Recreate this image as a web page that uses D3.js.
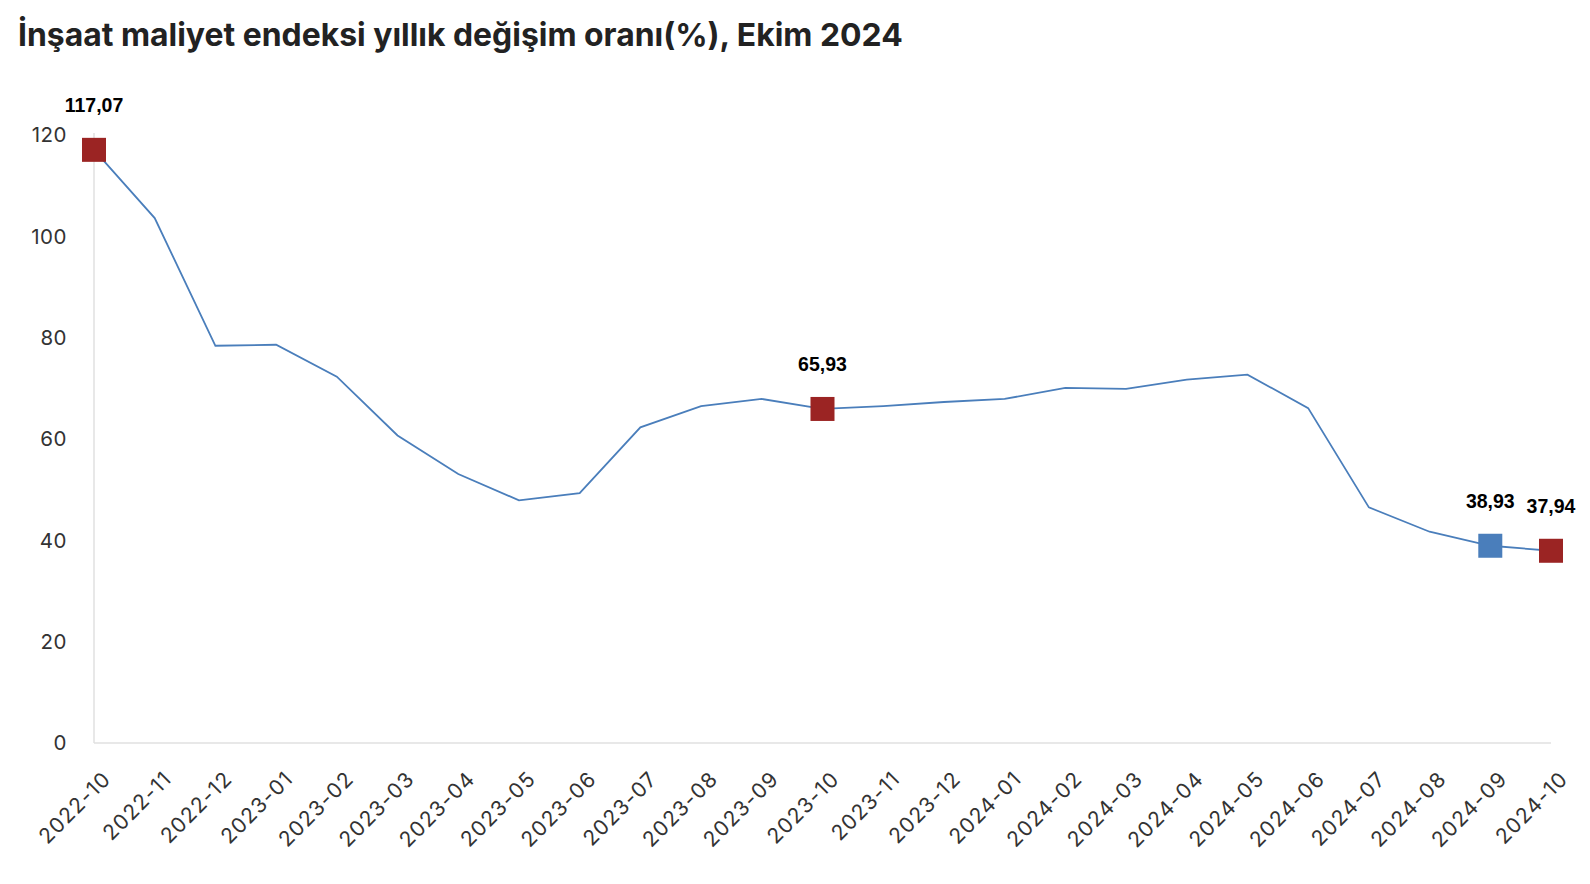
<!DOCTYPE html>
<html><head><meta charset="utf-8">
<script src="https://cdn.jsdelivr.net/npm/d3@7"></script>
<style>body{margin:0;background:#fff}svg{display:block}</style>
</head><body>
<svg id="c" width="1590" height="884"></svg>
<script>
const title = "İnşaat maliyet endeksi yıllık değişim oranı(%), Ekim 2024";
const months = ["2022-10","2022-11","2022-12","2023-01","2023-02","2023-03","2023-04","2023-05","2023-06","2023-07","2023-08","2023-09","2023-10","2023-11","2023-12","2024-01","2024-02","2024-03","2024-04","2024-05","2024-06","2024-07","2024-08","2024-09","2024-10"];
const values = [117.07,103.6,78.4,78.6,72.3,60.7,53.1,47.9,49.3,62.3,66.5,67.9,65.93,66.5,67.3,67.9,70.1,69.9,71.7,72.7,66.1,46.5,41.7,38.93,37.94];
const yTicks = [0,20,40,60,80,100,120];
const highlightRed = ["2022-10","2023-10","2024-10"];
const highlightBlue = ["2024-09"];
const labelText = {"2022-10":"117,07","2023-10":"65,93","2024-09":"38,93","2024-10":"37,94"};

const svg = d3.select("#c");
const x = d3.scalePoint().domain(months).range([94,1551]);
const y = d3.scaleLinear().domain([0,120]).range([743,135]);

svg.append("text").attr("x",18).attr("y",46).text(title)
  .attr("font-family","Inter, 'Open Sans', sans-serif").attr("font-weight",700)
  .attr("font-size",31.9).attr("fill","#222");

// axes lines
svg.append("line").attr("x1",94).attr("x2",94).attr("y1",133).attr("y2",743).attr("stroke","#e0e0e0").attr("stroke-width",1.5);
svg.append("line").attr("x1",94).attr("x2",1551).attr("y1",743).attr("y2",743).attr("stroke","#e0e0e0").attr("stroke-width",1.5);

// y ticks
svg.append("g").selectAll("text").data(yTicks).join("text")
  .attr("x",67).attr("y",d=>y(d)).attr("dy","0.35em").attr("text-anchor","end")
  .attr("font-family","Inter, sans-serif").attr("font-size",20.5).attr("letter-spacing",0.5).attr("fill","#333").text(d=>d);

// x ticks
svg.append("g").selectAll("text").data(months).join("text")
  .attr("transform",d=>`translate(${x(d)+13},${775}) rotate(-45)`)
  .attr("text-anchor","end").attr("dy","0.35em")
  .attr("font-family","Inter, sans-serif").attr("font-size",21).attr("letter-spacing",1.2).attr("fill","#333").text(d=>d);

const data = months.map((m,i)=>({m,v:values[i]}));
svg.append("path").datum(data).attr("fill","none").attr("stroke","#4A7EBB").attr("stroke-width",1.8)
  .attr("d",d3.line().x(d=>x(d.m)).y(d=>y(d.v)));

const ms = 24;
svg.append("g").selectAll("rect").data(data.filter(d=>highlightRed.includes(d.m)||highlightBlue.includes(d.m))).join("rect")
  .attr("x",d=>x(d.m)-ms/2).attr("y",d=>y(d.v)-ms/2).attr("width",ms).attr("height",ms)
  .attr("fill",d=>highlightBlue.includes(d.m)?"#4A7EBB":"#9B2423");

svg.append("g").selectAll("text").data(data.filter(d=>labelText[d.m])).join("text")
  .attr("x",d=>x(d.m)).attr("y",d=>y(d.v)-45).attr("dy","0.35em").attr("text-anchor","middle")
  .attr("font-family","'Liberation Sans', Arial, sans-serif").attr("font-weight",700).attr("font-size",19.5)
  .attr("fill","#000").text(d=>labelText[d.m]);
</script>
</body></html>
